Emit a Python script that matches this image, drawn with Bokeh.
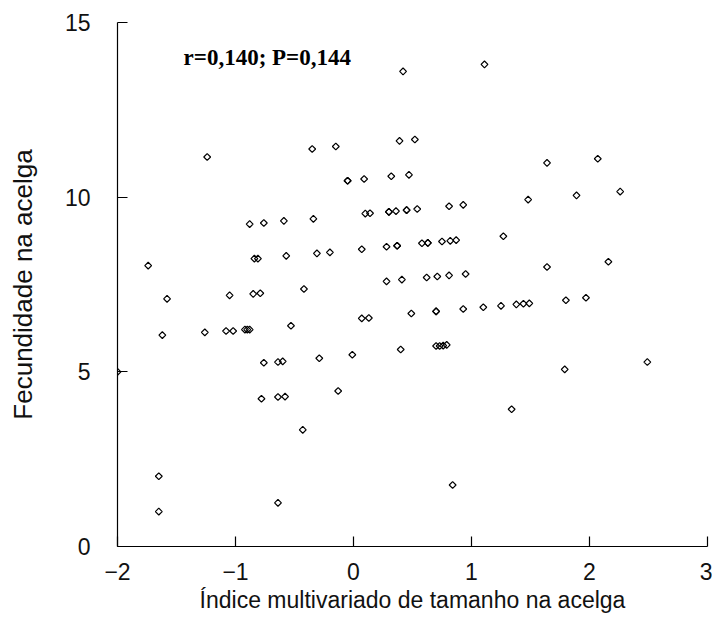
import math
from bokeh.plotting import figure
from bokeh.models import FixedTicker, Label, Range1d
from bokeh.embed import file_html
from bokeh.resources import INLINE

# Índice multivariado de tamanho na acelga (x) vs Fecundidade na acelga (y)
size_index = [
    -2.00, -1.74, -1.65, -1.65, -1.62, -1.58, -1.26, -1.24, -1.08, -1.02,
    -0.92, -0.90, -0.88, -1.05, -0.88, -0.85, -0.84, -0.81, -0.79, -0.78,
    -0.76, -0.76, -0.64, -0.60, -0.64, -0.58, -0.64, -0.59, -0.57, -0.53,
    -0.43, -0.42, -0.35, -0.34, -0.31, -0.29, -0.20, -0.15, -0.13, -0.05,
    -0.05, -0.01, 0.07, 0.07, 0.13, 0.09, 0.10, 0.14, 0.28, 0.37,
    0.37, 0.28, 0.30, 0.30, 0.32, 0.36, 0.39, 0.40, 0.41, 0.42,
    0.45, 0.45, 0.47, 0.49, 0.52, 0.54, 0.58, 0.63, 0.63, 0.62,
    0.71, 0.70, 0.70, 0.70, 0.73, 0.76, 0.79, 0.75, 0.81, 0.81,
    0.82, 0.84, 0.87, 0.93, 0.93, 0.95, 1.10, 1.11, 1.25, 1.27,
    1.34, 1.38, 1.44, 1.49, 1.48, 1.64, 1.64, 1.79, 1.80, 1.89,
    1.97, 2.07, 2.16, 2.26, 2.49,
]
fecundity = [
    5.00, 8.04, 2.01, 1.00, 6.05, 7.09, 6.13, 11.15, 6.17, 6.17,
    6.21, 6.21, 6.21, 7.19, 9.23, 7.23, 8.24, 8.24, 7.25, 4.23,
    9.26, 5.26, 5.28, 5.30, 4.28, 4.29, 1.25, 9.32, 8.32, 6.32,
    3.34, 7.37, 11.38, 9.38, 8.39, 5.39, 8.42, 11.45, 4.45, 10.47,
    10.47, 5.49, 8.51, 6.53, 6.54, 10.52, 9.53, 9.54, 8.58, 8.61,
    8.61, 7.59, 9.58, 9.58, 10.60, 9.60, 11.61, 5.64, 7.64, 13.60,
    9.63, 9.63, 10.64, 6.67, 11.65, 9.66, 8.68, 8.69, 8.69, 7.70,
    7.73, 6.73, 6.73, 5.74, 5.74, 5.75, 5.77, 8.73, 9.74, 7.76,
    8.75, 1.76, 8.77, 9.78, 6.80, 7.80, 6.85, 13.80, 6.89, 8.88,
    3.93, 6.93, 6.95, 6.96, 9.93, 10.98, 8.00, 5.07, 7.05, 10.05,
    7.12, 11.10, 8.15, 10.16, 5.28,
]

x_ticks = [-2, -1, 0, 1, 2, 3]
y_ticks = [0, 5, 10, 15]
x_title = "Índice multivariado de tamanho na acelga"
y_title = "Fecundidade na acelga"
stat_text = "r=0,140; P=0,144"

p = figure(
    width=712, height=638,
    output_backend="svg", toolbar_location=None,
    x_range=Range1d(-2, 3), y_range=Range1d(0, 15),
    min_border_left=117, min_border_right=5,
    min_border_top=22, min_border_bottom=92,
)
p.outline_line_color = None
p.xgrid.visible = False
p.ygrid.visible = False
p.background_fill_color = "white"
p.border_fill_color = "white"

p.scatter(size_index, fecundity, marker="square", angle=math.pi / 4,
          size=4.8, line_color="black", line_width=1.2, fill_color=None)

for ax in (p.xaxis[0], p.yaxis[0]):
    ax.axis_line_color = "black"
    ax.axis_line_width = 1.2
    ax.major_tick_in = 10
    ax.major_tick_out = 0
    ax.major_tick_line_color = "black"
    ax.major_tick_line_width = 1.2
    ax.minor_tick_line_color = None
    ax.major_label_text_font = "Liberation Sans"
    ax.major_label_text_font_size = "23px"
    ax.major_label_text_color = "#111111"
    ax.axis_label_text_font = "Liberation Sans"
    ax.axis_label_text_font_style = "normal"
    ax.axis_label_text_color = "#111111"

p.xaxis.axis_label_text_font_size = "23px"
p.yaxis.axis_label_text_font_size = "26px"
p.xaxis.ticker = FixedTicker(ticks=x_ticks)
p.yaxis.ticker = FixedTicker(ticks=y_ticks)
p.xaxis.axis_label = x_title
p.yaxis.axis_label = y_title
p.xaxis.major_label_standoff = 16
p.xaxis.axis_label_standoff = 4
p.yaxis.major_label_standoff = 27
p.yaxis.axis_label_standoff = 24

p.add_layout(Label(
    x=-1.44, y=14.0, text=stat_text,
    text_font="Liberation Serif", text_font_style="bold",
    text_font_size="23px", text_color="black",
    text_baseline="alphabetic",
))

open("out.html", "w").write(file_html(p, INLINE))
